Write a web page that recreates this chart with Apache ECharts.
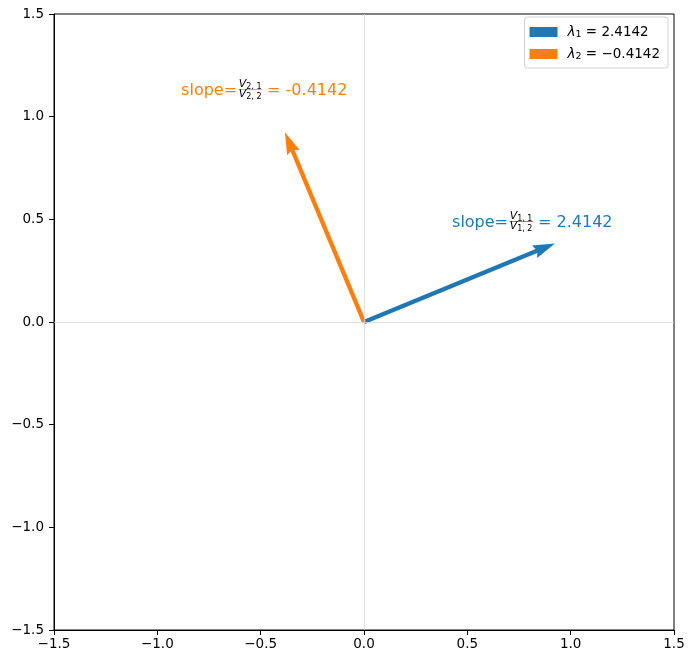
<!DOCTYPE html>
<html>
<head>
<meta charset="utf-8">
<script src="https://cdn.jsdelivr.net/npm/echarts@6/dist/echarts.min.js"></script>
<style>
  html, body { margin: 0; padding: 0; background: #fff; }
  #chart { width: 694px; height: 664px; }
</style>
</head>
<body>
<div id="chart"></div>
<script>
// eigen decomposition results
const lambdas = [2.4142, -0.4142]
const vecX = [0.9239, -0.3827]
const vecY = [0.3827, 0.9239]
const slopeText = ['2.4142', '-0.4142']
const seriesNames = ['λ1', 'λ2']
const ticks = [-1.5, -1.0, -0.5, 0.0, 0.5, 1.0, 1.5]

const colors = ['#1f77b4', '#ff7f0e']
const FONT = 'DejaVu Sans'
// where each slope label starts (left edge, baseline), data coords
const labelAnchor = [[0.426, 0.458], [-0.885, 1.10]]

const minus = s => String(s).replace('-', '\u2212')

// quiver-like arrow, sizes in px
const SHAFT = 4.4, HEAD_W = 13.5, HEAD_L = 22, HEAD_AX = 20

const subRich = color => ({
  v: { fontFamily: FONT, fontSize: 11, fontStyle: 'italic', color, lineHeight: 13, verticalAlign: 'middle' },
  s: { fontFamily: FONT, fontSize: 8, color, lineHeight: 8, verticalAlign: 'bottom' }
})

const makeRender = idx => (params, api) => {
  const p0 = api.coord([api.value(0), api.value(1)])
  const p1 = api.coord([api.value(2), api.value(3)])
  const dx = p1[0] - p0[0], dy = p1[1] - p0[1]
  const len = Math.hypot(dx, dy)
  const ux = dx / len, uy = dy / len
  const nx = -uy, ny = ux
  const pt = (a, b) => [p0[0] + ux * a + nx * b, p0[1] + uy * a + ny * b]
  const color = api.visual('color')

  const arrow = {
    type: 'polygon',
    shape: {
      points: [
        pt(0, -SHAFT / 2),
        pt(len - HEAD_AX, -SHAFT / 2),
        pt(len - HEAD_L, -HEAD_W / 2),
        pt(len, 0),
        pt(len - HEAD_L, HEAD_W / 2),
        pt(len - HEAD_AX, SHAFT / 2),
        pt(0, SHAFT / 2)
      ]
    },
    style: { fill: color }
  }

  const [bx, by] = api.coord(labelAnchor[idx])
  const k = idx + 1
  const main = '16px "' + FONT + '"'
  const label = [
    { type: 'text', style: { x: bx, y: by - 5, text: 'slope=', font: main, fill: color, align: 'left', verticalAlign: 'middle' } },
    { type: 'text', style: { x: bx + 69, y: by - 12, text: `{v|V}{s|${k}, 1}`, rich: subRich(color), align: 'center', verticalAlign: 'middle' } },
    { type: 'line', shape: { x1: bx + 57.5, y1: by - 6.5, x2: bx + 81, y2: by - 6.5 }, style: { stroke: color, lineWidth: 0.8 } },
    { type: 'text', style: { x: bx + 69, y: by - 1.5, text: `{v|V}{s|${k}, 2}`, rich: subRich(color), align: 'center', verticalAlign: 'middle' } },
    { type: 'text', style: { x: bx + 86, y: by - 5, text: '= ' + slopeText[idx], font: main, fill: color, align: 'left', verticalAlign: 'middle' } }
  ]

  return { type: 'group', children: [arrow, ...label] }
}

const axisCommon = {
  type: 'value',
  min: -1.5,
  max: 1.5,
  interval: 0.5,
  splitLine: { show: false },
  axisLine: { show: true, onZero: false, lineStyle: { color: '#000', width: 1 } },
  axisTick: { show: true, inside: false, length: 5, lineStyle: { color: '#000', width: 1 } },
  axisLabel: {
    color: '#000',
    fontFamily: FONT,
    fontSize: 13.5,
    formatter: v => minus(v.toFixed(1))
  }
}

const vectorSeries = seriesNames.map((name, i) => ({
  name,
  type: 'custom',
  z: 3,
  itemStyle: { color: colors[i] },
  dimensions: ['x0', 'y0', 'x1', 'y1'],
  encode: { x: [0, 2], y: [1, 3] },
  renderItem: makeRender(i),
  data: [[0, 0, vecX[i], vecY[i]]],
  silent: true
}))

const option = {
  animation: false,
  backgroundColor: '#fff',
  grid: { left: 54, right: 20, top: 14, bottom: 34, show: true, borderColor: '#000', borderWidth: 1, backgroundColor: 'transparent' },
  xAxis: { ...axisCommon, axisLabel: { ...axisCommon.axisLabel, margin: 7 } },
  yAxis: { ...axisCommon, axisLabel: { ...axisCommon.axisLabel, margin: 10 } },
  legend: {
    right: 26,
    top: 17,
    orient: 'vertical',
    icon: 'rect',
    itemWidth: 28,
    itemHeight: 10,
    itemGap: 6,
    padding: [7, 8, 6, 5],
    backgroundColor: '#fff',
    borderColor: '#d0d0d0',
    borderWidth: 1,
    borderRadius: 3,
    selectedMode: false,
    data: seriesNames,
    formatter: name => {
      const i = seriesNames.indexOf(name)
      return `{l|λ}{s|${i + 1}}{t| = ${minus(lambdas[i])}}`
    },
    textStyle: {
      color: '#000',
      lineHeight: 16,
      rich: {
        l: { fontFamily: FONT, fontSize: 13.5, fontStyle: 'italic', color: '#000', lineHeight: 16, padding: [0, 0, 0, 5] },
        s: { fontFamily: FONT, fontSize: 9.5, color: '#000', lineHeight: 9, verticalAlign: 'bottom' },
        t: { fontFamily: FONT, fontSize: 13.5, color: '#000', lineHeight: 16 }
      }
    }
  },
  series: [
    {
      type: 'line',
      data: [],
      z: 1,
      silent: true,
      markLine: {
        silent: true,
        symbol: 'none',
        animation: false,
        label: { show: false },
        lineStyle: { color: '#d8d8d8', width: 0.8, type: 'solid' },
        data: [{ xAxis: 0 }, { yAxis: 0 }]
      }
    },
    ...vectorSeries
  ]
}

const chart = echarts.init(document.getElementById('chart'), null, { renderer: 'canvas' })
chart.setOption(option)
</script>
</body>
</html>
